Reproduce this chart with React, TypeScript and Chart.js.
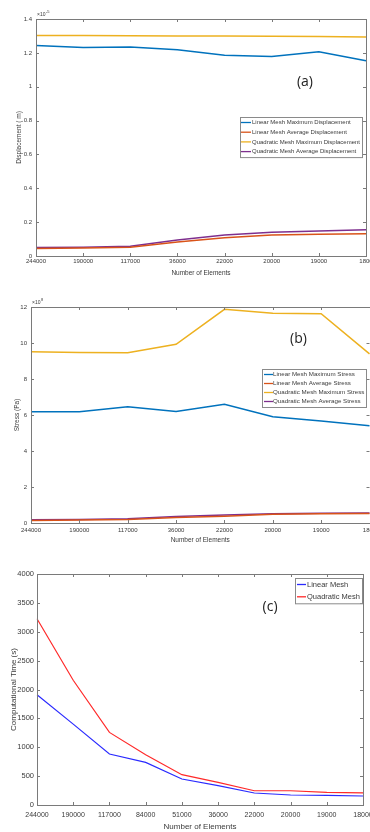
import React, { useEffect, useRef } from 'react';
import { Chart, registerables } from 'chart.js';

Chart.register(...registerables);

const FONT = '"Liberation Sans", Arial, sans-serif';
const TAG_FONT = '"Open Sans", "Noto Sans", sans-serif';
const TEXT = '#3a3a3a';

// ---------- Data ----------
const elementsAB = ['244000', '190000', '117000', '36000', '22000', '20000', '19000', '1800'];
const elementsC = ['244000', '190000', '117000', '84000', '51000', '36000', '22000', '20000', '19000', '18000'];

// (a) displacement, x10^-5 m
const linMaxDisp = [1.243, 1.231, 1.235, 1.218, 1.186, 1.178, 1.206, 1.153];
const linAvgDisp = [0.045, 0.047, 0.052, 0.082, 0.108, 0.124, 0.128, 0.131];
const quadMaxDisp = [1.303, 1.302, 1.301, 1.300, 1.299, 1.298, 1.296, 1.294];
const quadAvgDisp = [0.05, 0.051, 0.057, 0.094, 0.124, 0.141, 0.147, 0.155];

// (b) stress, x10^8 Pa
const linMaxStress = [6.18, 6.18, 6.46, 6.2, 6.6, 5.9, 5.67, 5.4];
const linAvgStress = [0.14, 0.16, 0.2, 0.3, 0.38, 0.48, 0.51, 0.53];
const quadMaxStress = [9.52, 9.47, 9.46, 9.93, 11.87, 11.65, 11.63, 9.4];
const quadAvgStress = [0.18, 0.2, 0.24, 0.36, 0.44, 0.52, 0.54, 0.56];

// (c) computational time, s
const linearTime = [1910, 1400, 883, 738, 450, 334, 208, 173, 168, 156];
const quadTime = [3226, 2160, 1257, 871, 525, 391, 247, 247, 218, 210];

// ---------- Styles ----------
const BLUE = '#0072BD';
const ORANGE = '#D95319';
const YELLOW = '#EDB120';
const PURPLE = '#7E2F8E';

type DS = { label: string; data: number[]; color: string; width: number };
type PanelSpec = {
  top: number; width: number; height: number;
  pad: { left: number; top: number; right: number; bottom: number };
  yWidth: number; xHeight: number;
  labels: string[]; datasets: DS[];
  yMax: number; yStep: number;
  tickFont: number; yTickFont: number; xTitleFont: number; yTitleFont: number;
  yTitle: string; xTitle: string;
  yTitlePad: number; xTitlePad: number; xTickPad: number; yTickPad: number;
  tag: string; tagFx: number; tagFy: number; tagFont: number;
  exponent?: string;
  legend: { right: number; top: number; font: number; row: number; first: number; sx: number; sLen: number; tx: number };
};

const decorPlugin = {
  id: 'decor',
  afterDatasetsDraw(chart: any, _args: any, opts: any) {
    const spec: PanelSpec = opts.spec;
    if (!spec) return;
    const { ctx, chartArea } = chart;
    const { left, right, top, bottom } = chartArea;
    const xs = chart.scales.x;
    const ys = chart.scales.y;
    ctx.save();
    // frame
    ctx.strokeStyle = '#7a7a7a';
    ctx.lineWidth = 1;
    ctx.strokeRect(Math.round(left) + 0.5, Math.round(top) + 0.5, Math.round(right - left), Math.round(bottom - top));
    const tl = 3;
    ctx.beginPath();
    xs.ticks.forEach((_t: any, i: number) => {
      const px = Math.round(xs.getPixelForTick(i)) + 0.5;
      ctx.moveTo(px, bottom); ctx.lineTo(px, bottom - tl);
      ctx.moveTo(px, top); ctx.lineTo(px, top + tl);
    });
    ys.ticks.forEach((_t: any, i: number) => {
      const py = Math.round(ys.getPixelForTick(i)) + 0.5;
      ctx.moveTo(left, py); ctx.lineTo(left + tl, py);
      ctx.moveTo(right, py); ctx.lineTo(right - tl, py);
    });
    ctx.stroke();

    // exponent label
    if (spec.exponent) {
      ctx.fillStyle = TEXT;
      ctx.textBaseline = 'alphabetic';
      ctx.textAlign = 'left';
      ctx.font = `5px ${FONT}`;
      const bx = left + 1;
      const by = top - 3;
      ctx.fillText('×10', bx, by);
      const w = ctx.measureText('×10').width;
      ctx.font = `4px ${FONT}`;
      ctx.fillText(spec.exponent, bx + w + 0.5, by - 3);
    }

    // panel tag
    ctx.fillStyle = '#222';
    ctx.font = `${spec.tagFont}px ${TAG_FONT}`;
    ctx.textAlign = 'center';
    ctx.textBaseline = 'middle';
    ctx.fillText(spec.tag, left + (right - left) * spec.tagFx, top + (bottom - top) * spec.tagFy);

    // legend
    const lg = spec.legend;
    ctx.font = `${lg.font}px ${FONT}`;
    let maxW = 0;
    chart.data.datasets.forEach((d: any) => { maxW = Math.max(maxW, ctx.measureText(d.label).width); });
    const boxW = lg.tx + maxW + 2;
    const n = chart.data.datasets.length;
    const boxH = lg.first * 2 + lg.row * (n - 1);
    const bxR = Math.round(right - lg.right);
    const bxL = bxR - Math.round(boxW);
    const byT = Math.round(top + lg.top);
    ctx.fillStyle = '#fff';
    ctx.fillRect(bxL, byT, bxR - bxL, boxH);
    ctx.strokeStyle = '#8a8a8a';
    ctx.strokeRect(bxL + 0.5, byT + 0.5, bxR - bxL, boxH);
    chart.data.datasets.forEach((d: any, i: number) => {
      const yy = byT + lg.first + i * lg.row;
      ctx.strokeStyle = d.borderColor;
      ctx.lineWidth = 1.3;
      ctx.beginPath();
      ctx.moveTo(bxL + lg.sx, yy);
      ctx.lineTo(bxL + lg.sx + lg.sLen, yy);
      ctx.stroke();
      ctx.fillStyle = TEXT;
      ctx.textAlign = 'left';
      ctx.textBaseline = 'middle';
      ctx.fillText(d.label, bxL + lg.tx, yy);
    });
    ctx.restore();
  },
};

const fmt = (v: any) => String(Math.round(Number(v) * 10) / 10);

const specA: PanelSpec = {
  top: 0, width: 390, height: 280,
  pad: { left: 0, top: 19, right: 24, bottom: 0 },
  yWidth: 36, xHeight: 24,
  labels: elementsAB,
  datasets: [
    { label: 'Linear Mesh Maximum Displacement', data: linMaxDisp, color: BLUE, width: 1.5 },
    { label: 'Linear Mesh Average Displacement', data: linAvgDisp, color: ORANGE, width: 1.5 },
    { label: 'Quadratic Mesh Maximum Displacement', data: quadMaxDisp, color: YELLOW, width: 1.5 },
    { label: 'Quadratic Mesh Average Displacement', data: quadAvgDisp, color: PURPLE, width: 1.5 },
  ],
  yMax: 1.4, yStep: 0.2,
  tickFont: 6, yTickFont: 6, xTitleFont: 6.5, yTitleFont: 6.5,
  yTitle: 'Displacement ( m)', xTitle: 'Number of Elements',
  yTitlePad: 15.5, xTitlePad: 3, xTickPad: 2, yTickPad: 4,
  tag: '(a)', tagFx: 0.815, tagFy: 0.265, tagFont: 14,
  exponent: '-5',
  legend: { right: 4, top: 98, font: 6, row: 9.7, first: 5.5, sx: 1, sLen: 10, tx: 12 },
};

const specB: PanelSpec = {
  top: 290, width: 390, height: 255,
  pad: { left: 0, top: 17, right: 20.5, bottom: 0 },
  yWidth: 31, xHeight: 22,
  labels: elementsAB,
  datasets: [
    { label: 'Linear Mesh Maximum Stress', data: linMaxStress, color: BLUE, width: 1.5 },
    { label: 'Linear Mesh Average Stress', data: linAvgStress, color: ORANGE, width: 1.5 },
    { label: 'Quadratic Mesh Maximum Stress', data: quadMaxStress, color: YELLOW, width: 1.5 },
    { label: 'Quadratic Mesh Average Stress', data: quadAvgStress, color: PURPLE, width: 1.5 },
  ],
  yMax: 12, yStep: 2,
  tickFont: 6, yTickFont: 6, xTitleFont: 6.5, yTitleFont: 6.5,
  yTitle: 'Stress (Pa)', xTitle: 'Number of Elements',
  yTitlePad: 13, xTitlePad: 0.5, xTickPad: 4, yTickPad: 4,
  tag: '(b)', tagFx: 0.79, tagFy: 0.15, tagFont: 14,
  exponent: '8',
  legend: { right: 3.5, top: 62, font: 6.2, row: 9, first: 5.5, sx: 2, sLen: 9, tx: 11 },
};

const specC: PanelSpec = {
  top: 555, width: 390, height: 277,
  pad: { left: 0, top: 19, right: 27, bottom: 0 },
  yWidth: 37, xHeight: 27,
  labels: elementsC,
  datasets: [
    { label: 'Linear Mesh', data: linearTime, color: '#2a2aff', width: 1.2 },
    { label: 'Quadratic Mesh', data: quadTime, color: '#ff2a2a', width: 1.2 },
  ],
  yMax: 4000, yStep: 500,
  tickFont: 7, yTickFont: 7.5, xTitleFont: 8, yTitleFont: 8,
  yTitle: 'Computational Time (s)', xTitle: 'Number of Elements',
  yTitlePad: 8.5, xTitlePad: 0.5, xTickPad: 6, yTickPad: 3,
  tag: '(c)', tagFx: 0.715, tagFy: 0.143, tagFont: 14,
  legend: { right: 1, top: 4, font: 7.5, row: 12.3, first: 6.5, sx: 2, sLen: 9, tx: 12 },
};

function Panel({ spec }: { spec: PanelSpec }) {
  const ref = useRef<HTMLCanvasElement>(null);
  useEffect(() => {
    const canvas = ref.current;
    if (!canvas) return;
    const chart = new Chart(canvas, {
      type: 'line',
      data: {
        labels: spec.labels,
        datasets: spec.datasets.map((d) => ({
          label: d.label,
          data: d.data,
          borderColor: d.color,
          backgroundColor: d.color,
          borderWidth: d.width,
          pointRadius: 0,
          tension: 0,
          fill: false,
        })),
      },
      options: {
        responsive: false,
        animation: false,
        devicePixelRatio: 1,
        layout: { padding: spec.pad },
        plugins: {
          legend: { display: false },
          tooltip: { enabled: false },
          decor: { spec },
        } as any,
        scales: {
          x: {
            type: 'category',
            offset: false,
            grid: { display: false, drawTicks: false },
            border: { display: false },
            ticks: {
              autoSkip: false, maxRotation: 0, minRotation: 0,
              padding: spec.xTickPad,
              font: { family: FONT, size: spec.tickFont },
              color: TEXT,
            },
            title: {
              display: true, text: spec.xTitle, color: TEXT,
              font: { family: FONT, size: spec.xTitleFont },
              padding: { top: 0, bottom: spec.xTitlePad },
            },
            afterFit: (s: any) => { s.height = spec.xHeight; s.paddingLeft = 0; s.paddingRight = 0; },
          },
          y: {
            min: 0, max: spec.yMax,
            grid: { display: false, drawTicks: false },
            border: { display: false },
            ticks: {
              stepSize: spec.yStep,
              padding: spec.yTickPad,
              font: { family: FONT, size: spec.yTickFont },
              color: TEXT,
              callback: fmt,
            },
            title: {
              display: true, text: spec.yTitle, color: TEXT,
              font: { family: FONT, size: spec.yTitleFont },
              padding: { top: spec.yTitlePad, bottom: 0 },
            },
            afterFit: (s: any) => { s.width = spec.yWidth; s.paddingTop = 0; s.paddingBottom = 0; },
          },
        } as any,
      },
      plugins: [decorPlugin],
    });
    return () => chart.destroy();
  }, [spec]);
  return (
    <canvas
      ref={ref}
      width={spec.width}
      height={spec.height}
      style={{ position: 'absolute', left: 0, top: spec.top, width: spec.width, height: spec.height }}
    />
  );
}

export default function App() {
  return (
    <div
      style={{
        position: 'absolute', left: 0, top: 0, width: 370, height: 832,
        overflow: 'hidden', background: '#fff',
      }}
    >
      <Panel spec={specA} />
      <Panel spec={specB} />
      <Panel spec={specC} />
    </div>
  );
}
